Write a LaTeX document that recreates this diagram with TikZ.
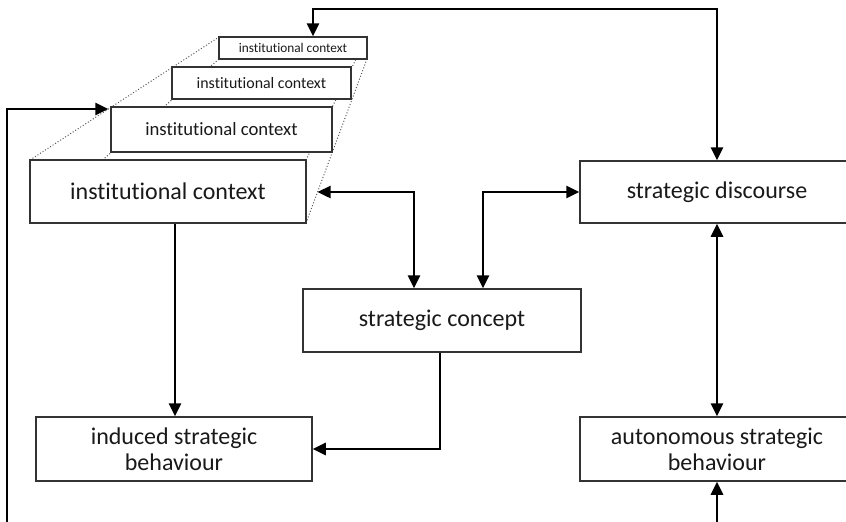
\documentclass[tikz,border=0pt]{standalone}
\usepackage{fontspec}
\setmainfont{Carlito}[Ligatures=NoCommon]
\usetikzlibrary{arrows.meta,calc}
\begin{document}
\begin{tikzpicture}[x=1pt,y=-1pt,
  box/.style={draw=black!80, line width=1.5pt, fill=white, align=center, inner sep=0pt,
    text=black!90, font=\fontsize{24}{26}\selectfont},
  tip/.tip={Triangle[length=13pt,width=12pt]},
  arr/.style={line width=2.6pt, -tip},
  arrb/.style={line width=2.6pt, tip-tip},
  frust/.style={dotted, black!65, line width=1pt}]
\clip (0,0) rectangle (846,522);
\useasboundingbox (0,0) rectangle (846,522);

% perspective stack of institutional contexts
\coordinate (i1tl) at (30,160);
\coordinate (i1bl) at (30,223);
\coordinate (i1tr) at (306,160);
\coordinate (i1br) at (306,223);
\coordinate (i4tl) at (219,37);
\coordinate (i4bl) at (219,59);
\coordinate (i4tr) at (367,37);
\coordinate (i4br) at (367,59);
\draw[frust] (i1tl) -- (i4tl);
\draw[frust] (i1bl) -- (i4bl);
\draw[frust] (i1tr) -- (i4tr);
\draw[frust] (i1br) -- (i4br);

\node[box, minimum width=276pt, minimum height=63pt] (inst) at (168,191.5) {institutional context};
\node[box, minimum width=221pt, minimum height=45pt, font=\fontsize{18.7}{20}\selectfont] (l2) at (221.5,129.5) {institutional context};
\node[box, minimum width=179pt, minimum height=32pt, font=\fontsize{15.9}{17}\selectfont] (l3) at (261.5,83) {institutional context};
\node[box, minimum width=148pt, minimum height=22pt, font=\fontsize{13.3}{14}\selectfont] (l4) at (293,48) {institutional context};

\node[box, minimum width=274pt, minimum height=62pt] (disc) at (717,192) {strategic discourse};
\node[box, minimum width=278pt, minimum height=63pt] (concept) at (442,320.5) {strategic concept};
\node[box, minimum width=276pt, minimum height=64pt] (induced) at (174,449) {induced strategic\\behaviour};
\node[box, minimum width=274pt, minimum height=64pt] (auto) at (717,449) {autonomous strategic\\behaviour};

% connector end points on the perspective edges
\coordinate (tlhit) at (intersection of i1tl--i4tl and 0,109--400,109);
\coordinate (brhit) at (intersection of i1br--i4br and 0,192--400,192);
\coordinate (leftin) at (7,540);
\coordinate (autoin) at (717,540);

% connectors
\draw[arrb] (313,0 |- l4.north) -- (313,9) -- (717,9) -- (disc.north);
\draw[arr] (leftin) -- (7,109) -- (tlhit);
\draw[arr] (175,0 |- inst.south) -- (175,0 |- induced.north);
\draw[arrb] (414,0 |- concept.north) -- (414,192) -- (brhit);
\draw[arrb] (483,0 |- concept.north) -- (483,192) -- (disc.west);
\draw[arrb] (disc.south) -- (auto.north);
\draw[arr] (autoin) -- (auto.south);
\draw[arr] (440,0 |- concept.south) -- (440,0 |- induced.east) -- (induced.east);
\end{tikzpicture}
\end{document}
